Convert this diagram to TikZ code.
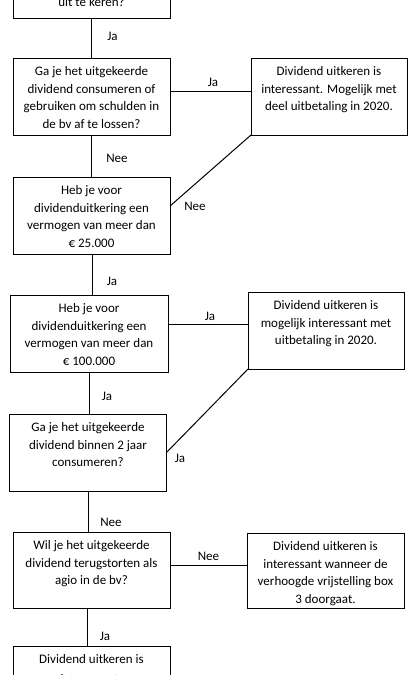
\documentclass[tikz,border=0pt]{standalone}
\usepackage{fontspec}
\setmainfont{Carlito}
\newdimen\pxu \pxu=0.75pt
\newcommand\bt[3]{\parbox[c][#1\pxu][t]{#2\pxu}{\vspace*{4.1pt}\centering\strut #3\par}}
\tikzset{
  box/.style={draw, line width=0.75pt, inner sep=0pt, outer sep=0pt, anchor=north west,
    font=\fontsize{9.75}{13.1}\selectfont},
  lab/.style={inner sep=0pt, font=\fontsize{9.75}{13.1}\selectfont},
  conn/.style={line width=0.75pt}
}
\begin{document}
\begin{tikzpicture}[x=0.75pt,y=-0.75pt]
\useasboundingbox (0,0) rectangle (412,675);
\clip (0,0) rectangle (412,675);
\fill[white] (0,0) rectangle (412,675);
\node[box] (b1) at (13,-11) {\bt{29}{157}{uit te keren?}};
\node[box] (b2) at (13,58) {\bt{77}{157}{Ga je het uitgekeerde\\dividend consumeren of\\gebruiken om schulden in\\de bv af te lossen?}};
\node[box] (r1) at (251,58) {\bt{77}{156}{Dividend uitkeren is\\interessant. Mogelijk met\\deel uitbetaling in 2020.}};
\node[box] (b3) at (13,177) {\bt{77}{157}{Heb je voor\\dividenduitkering een\\vermogen van meer dan\\€ 25.000}};
\node[box] (b4) at (10,295) {\bt{77}{158}{Heb je voor\\dividenduitkering een\\vermogen van meer dan\\€ 100.000}};
\node[box] (r2) at (248,292) {\bt{77}{156}{Dividend uitkeren is\\mogelijk interessant met\\uitbetaling in 2020.}};
\node[box] (b5) at (9.5,414) {\bt{77}{157}{Ga je het uitgekeerde\\dividend binnen 2 jaar\\consumeren?}};
\node[box] (b6) at (13,532) {\bt{76}{157}{Wil je het uitgekeerde\\dividend terugstorten als\\agio in de bv?}};
\node[box] (r3) at (247,533) {\bt{75}{157}{Dividend uitkeren is\\interessant wanneer de\\verhoogde vrijstelling box\\3 doorgaat.}};
\node[box] (b7) at (13,646) {\bt{80}{157}{\vspace*{1.5pt}Dividend uitkeren is\\interessant.}};
% connectors
\draw[conn] (b1.south) -- (b1.south |- b2.north);
\draw[conn] ([yshift=4.1pt]b2.east) -- ([yshift=4.1pt]b2.east -| r1.west);
\draw[conn] (b2.south) -- (b2.south |- b3.north);
\draw[conn] ([yshift=7.1pt]b3.east) -- (r1.south west);
\draw[conn] ([xshift=1pt]b3.south) -- ([xshift=1pt]b3.south |- b4.north);
\draw[conn] ([yshift=6.4pt]b4.east) -- ([yshift=6.4pt]b4.east -| r2.west);
\draw[conn] ([xshift=0.5pt]b4.south) -- ([xshift=0.5pt]b4.south |- b5.north);
\draw[conn] (b5.east) -- (r2.south west);
\draw[conn] (b5.south) -- (b5.south |- b6.north);
\draw[conn] ([yshift=3.75pt]b6.east) -- ([yshift=3.75pt]b6.east -| r3.west);
\draw[conn] ([xshift=-2.7pt]b6.south) -- ([xshift=-2.7pt]b6.south |- b7.north);
% labels
\node[lab] (l1) at (112.5,36) {Ja};
\node[lab] (l2) at (213,82) {Ja};
\node[lab] (l3) at (117,158) {Nee};
\node[lab] (l4) at (195,206) {Nee};
\node[lab] (l5) at (112,281) {Ja};
\node[lab] (l6) at (210,316) {Ja};
\node[lab] (l7) at (107,396) {Ja};
\node[lab] (l8) at (180,458) {Ja};
\node[lab] (l9) at (111,522) {Nee};
\node[lab] (l10) at (208.5,556) {Nee};
\node[lab] (l11) at (105,636) {Ja};
\end{tikzpicture}
\end{document}
